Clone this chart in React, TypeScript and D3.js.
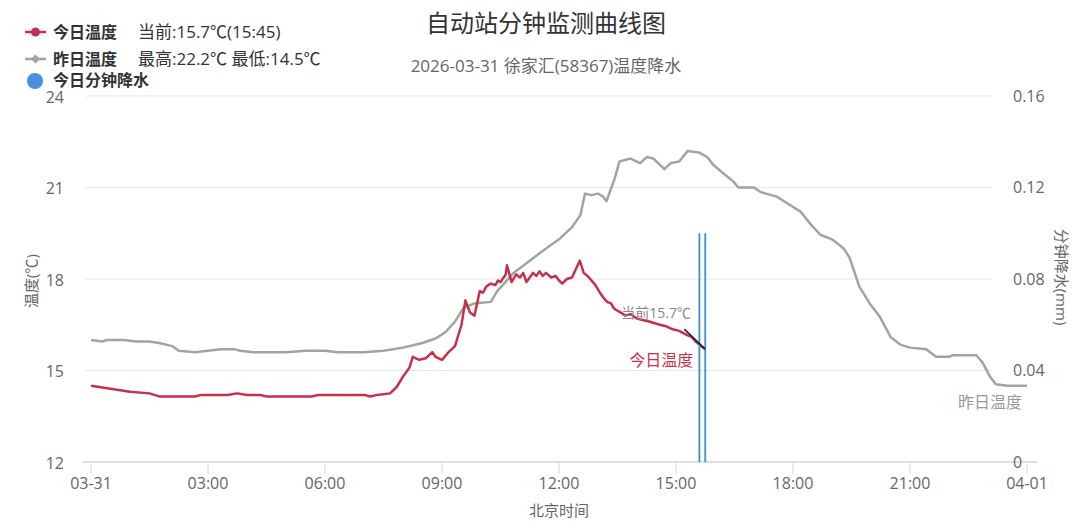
import * as d3 from 'd3'

// x axis: hours of the day, 03-31 00:00 .. 04-01 00:00
const xTickHours = [0, 3, 6, 9, 12, 15, 18, 21, 24]
const xTickLabels = ['03-31', '03:00', '06:00', '09:00', '12:00', '15:00', '18:00', '21:00', '04-01']
const tempTicks = [12, 15, 18, 21, 24]
const rainTicks = [0, 0.04, 0.08, 0.12, 0.16]

// today's temperature (℃)
const todayTimes = [
  '00:00', '00:15', '00:30', '00:45', '01:00', '01:30', '01:45', '02:00', '02:40', '02:50',
  '03:30', '03:45', '04:00', '04:20', '04:30', '05:00', '05:40', '05:50', '06:30', '07:00',
  '07:10', '07:20', '07:40', '07:50', '08:00', '08:10', '08:15', '08:25', '08:35', '08:45',
  '08:50', '09:00', '09:10', '09:20', '09:30', '09:36', '09:43', '09:50', '09:58', '10:03',
  '10:08', '10:15', '10:22', '10:26', '10:30', '10:38', '10:40', '10:47', '10:54', '11:00',
  '11:05', '11:10', '11:20', '11:25', '11:30', '11:35', '11:40', '11:48', '11:55', '12:00',
  '12:05', '12:12', '12:20', '12:32', '12:38', '12:44', '12:50', '12:56', '13:03', '13:08',
  '13:14', '13:20', '13:24', '13:27', '13:35', '13:42', '13:50', '14:00', '14:10', '14:20',
  '14:35', '14:45', '14:55', '15:05', '15:18', '15:24', '15:30', '15:45',
]
const todayTemps = [
  14.5, 14.45, 14.4, 14.35, 14.3, 14.25, 14.15, 14.15, 14.15, 14.2,
  14.2, 14.25, 14.2, 14.2, 14.15, 14.15, 14.15, 14.2, 14.2, 14.2,
  14.15, 14.2, 14.25, 14.45, 14.8, 15.1, 15.45, 15.35, 15.4, 15.6,
  15.45, 15.35, 15.6, 15.8, 16.5, 17.3, 16.9, 16.8, 17.6, 17.55,
  17.75, 17.85, 17.8, 17.95, 17.9, 18.15, 18.45, 17.9, 18.15, 18.05,
  18.2, 17.9, 18.2, 18.1, 18.25, 18.1, 18.2, 18.05, 18.1, 17.95,
  17.85, 18.0, 18.05, 18.6, 18.2, 18.1, 17.95, 17.8, 17.55, 17.4,
  17.25, 17.2, 17.05, 17.0, 16.9, 16.8, 16.85, 16.7, 16.65, 16.6,
  16.5, 16.45, 16.35, 16.3, 16.15, 16.1, 15.95, 15.7,
]

// yesterday's temperature (℃)
const yestTimes = [
  '00:00', '00:18', '00:24', '00:50', '01:10', '01:30', '01:45', '02:05', '02:15', '02:40',
  '03:00', '03:20', '03:40', '03:50', '04:10', '05:00', '05:30', '06:00', '06:20', '07:00',
  '07:30', '08:00', '08:30', '08:50', '09:05', '09:20', '09:33', '09:50', '10:15', '10:25',
  '10:50', '11:15', '11:40', '12:00', '12:20', '12:33', '12:40', '12:50', '13:00', '13:08',
  '13:13', '13:25', '13:33', '13:50', '14:05', '14:15', '14:25', '14:35', '14:42', '14:52',
  '15:05', '15:18', '15:35', '15:48', '15:57', '16:08', '16:28', '16:36', '17:00', '17:10',
  '17:35', '17:50', '18:12', '18:27', '18:42', '19:00', '19:18', '19:27', '19:42', '19:58',
  '20:14', '20:30', '20:45', '21:00', '21:25', '21:40', '22:00', '22:06', '22:42', '22:52',
  '23:03', '23:12', '23:30', '24:00',
]
const yestTemps = [
  16.0, 15.95, 16.0, 16.0, 15.95, 15.95, 15.9, 15.8, 15.65, 15.6,
  15.65, 15.7, 15.7, 15.65, 15.6, 15.6, 15.65, 15.65, 15.6, 15.6,
  15.65, 15.75, 15.9, 16.05, 16.25, 16.6, 17.05, 17.2, 17.25, 17.6,
  18.2, 18.6, 19.0, 19.3, 19.7, 20.1, 20.8, 20.75, 20.8, 20.7,
  20.55, 21.25, 21.85, 21.95, 21.8, 22.0, 21.95, 21.75, 21.6, 21.8,
  21.85, 22.2, 22.15, 22.0, 21.75, 21.55, 21.2, 21.0, 21.0, 20.85,
  20.7, 20.5, 20.2, 19.8, 19.45, 19.3, 19.0, 18.7, 17.75, 17.2,
  16.75, 16.1, 15.85, 15.75, 15.7, 15.45, 15.45, 15.5, 15.5, 15.25,
  14.8, 14.55, 14.5, 14.5,
]

// today's minute precipitation (mm)
const rainTimes = ['15:36', '15:45']
const rainValues = [0.1, 0.1]

const toHour = (s: string) => {
  const [h, m] = s.split(':').map(Number)
  return h + m / 60
}

const W = 1080
const H = 527
const FONT = "'Open Sans', 'Noto Sans CJK SC', sans-serif"
const RED = '#c6314a'
const GRAY = '#a3a3a3'
const BLUE = '#4a90e2'

export default function App() {
  const x = d3.scaleLinear().domain([0, 24]).range([91, 1027])
  const yT = d3.scaleLinear().domain([12, 24]).range([462, 96])
  const yR = d3.scaleLinear().domain([0, 0.16]).range([462, 96])

  const line = d3.line<[number, number]>()
    .x((d) => x(d[0]))
    .y((d) => yT(d[1]))
    .curve(d3.curveLinear)

  const today: [number, number][] = todayTimes.map((t, i) => [toHour(t), todayTemps[i]])
  const yest: [number, number][] = yestTimes.map((t, i) => [toHour(t), yestTemps[i]])

  const lastT = today[today.length - 1]
  const lx = x(lastT[0])
  const ly = yT(lastT[1])
  const lastY = yest[yest.length - 1]
  const gx = x(lastY[0])
  const gy = yT(lastY[1])

  return (
    <svg width={W} height={H} style={{ position: 'absolute', left: 0, top: 0, display: 'block', background: '#fff' }} fontFamily={FONT}>
      {/* title */}
      <text x={546} y={32} textAnchor="middle" fontSize={24} fill="#333">自动站分钟监测曲线图</text>
      <text x={546} y={72} textAnchor="middle" fontSize={17} fill="#666">2026-03-31 徐家汇(58367)温度降水</text>

      {/* grid */}
      {tempTicks.slice(1).map((t) => (
        <line key={t} x1={85} x2={992} y1={yT(t)} y2={yT(t)} stroke="#e6e6e6" strokeWidth={1} />
      ))}
      <line x1={82} x2={1037} y1={yT(12)} y2={yT(12)} stroke="#d6d6d6" strokeWidth={1.5} />
      {xTickHours.map((h) => (
        <line key={h} x1={x(h)} x2={x(h)} y1={462} y2={474} stroke="#d6d6d6" strokeWidth={1} />
      ))}

      {/* left axis */}
      {tempTicks.map((t) => (
        <text key={t} x={64} y={yT(t) + 1} dy="0.35em" textAnchor="end" fontSize={16} fill="#666">{t}</text>
      ))}
      <text transform="translate(37,281) rotate(-90)" textAnchor="middle" fontSize={15} fill="#666">温度(℃)</text>

      {/* right axis */}
      {rainTicks.map((t) => (
        <text key={t} x={1013} y={yR(t)} dy="0.35em" textAnchor="start" fontSize={16} fill="#666">{t}</text>
      ))}
      <text transform="translate(1056,277) rotate(90)" textAnchor="middle" fontSize={15} fill="#666">分钟降水(mm)</text>

      {/* x axis labels */}
      {xTickHours.map((h, i) => (
        <text key={h} x={x(h)} y={489} textAnchor="middle" fontSize={16} fill="#666">{xTickLabels[i]}</text>
      ))}
      <text x={559} y={516} textAnchor="middle" fontSize={15} fill="#666">北京时间</text>

      {/* series */}
      <path d={line(yest) || ''} fill="none" stroke={GRAY} strokeWidth={2.5} strokeLinejoin="round" />
      <path d={line(today) || ''} fill="none" stroke={RED} strokeWidth={2.5} strokeLinejoin="round" />

      {rainTimes.map((t, i) => (
        <rect key={t} x={x(toHour(t)) - 0.9} y={yR(rainValues[i])} width={1.8} height={462 - yR(rainValues[i])} fill="#3d8fd1" />
      ))}

      {/* data labels */}
      <line x1={lx - 21} y1={ly - 20} x2={lx} y2={ly} stroke="#222" strokeWidth={1.5} />
      <text x={lx - 84} y={ly - 31} fontSize={14} fill="#888">当前15.7℃</text>
      <text x={lx - 12} y={ly + 11} dy="0.35em" textAnchor="end" fontSize={16} fill={RED}>今日温度</text>
      <text x={gx - 5} y={gy + 17} dy="0.35em" textAnchor="end" fontSize={16} fill="#999">昨日温度</text>

      {/* legend */}
      <line x1={25} x2={46} y1={32} y2={32} stroke={RED} strokeWidth={2.5} />
      <circle cx={35.5} cy={32} r={4.5} fill={RED} />
      <text x={53} y={32} dy="0.35em" fontSize={16} fontWeight="bold" fill="#333">今日温度</text>
      <text x={138} y={32} dy="0.35em" fontSize={17} fill="#333">当前:15.7℃(15:45)</text>

      <line x1={25} x2={46} y1={59} y2={59} stroke={GRAY} strokeWidth={2.5} />
      <path d="M35.5,54.5 L40,59 L35.5,63.5 L31,59 Z" fill={GRAY} />
      <text x={53} y={59} dy="0.35em" fontSize={16} fontWeight="bold" fill="#333">昨日温度</text>
      <text x={138} y={59} dy="0.35em" fontSize={17} fill="#333">最高:22.2℃ 最低:14.5℃</text>

      <circle cx={35} cy={81} r={8} fill={BLUE} />
      <text x={53} y={80} dy="0.35em" fontSize={16} fontWeight="bold" fill="#333">今日分钟降水</text>
    </svg>
  )
}
